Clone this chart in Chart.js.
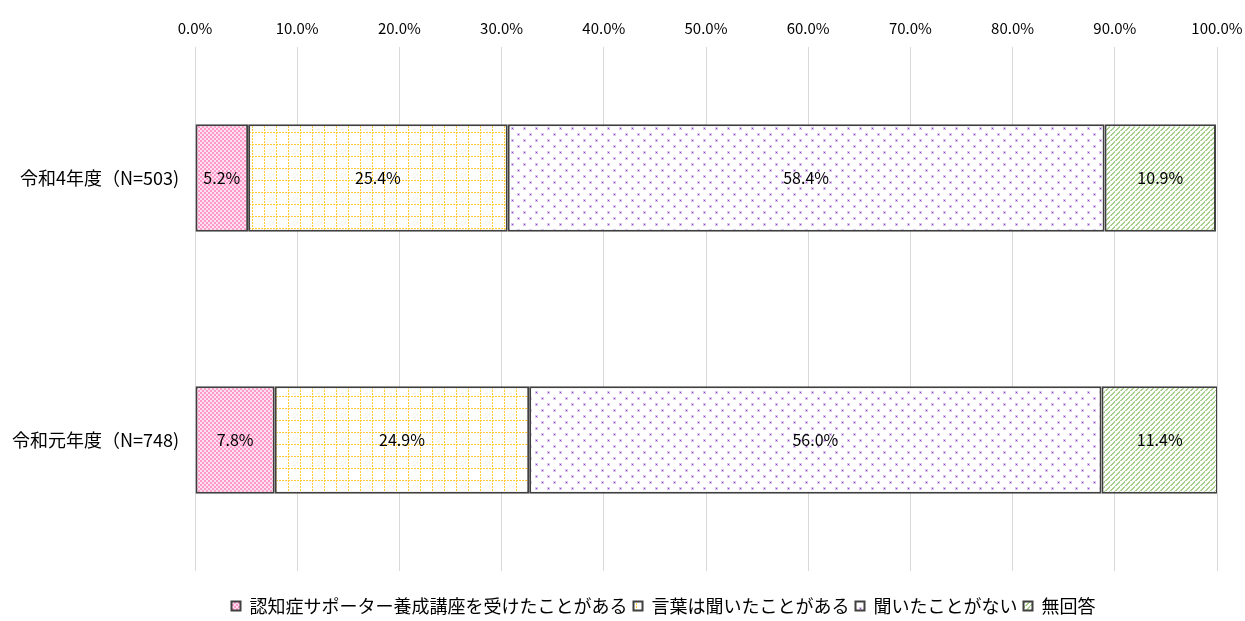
<!DOCTYPE html>
<html>
<head>
<meta charset="utf-8">
<script src="https://cdn.jsdelivr.net/npm/chart.js@4"></script>
<style>
  body { margin: 0; background: #fff; }
  #wrap { width: 1245px; height: 621px; position: relative; }
</style>
</head>
<body>
<div id="wrap"><canvas id="myChart"></canvas></div>
<script>
const categories = ['令和4年度（N=503)', '令和元年度（N=748)'];
const seriesNames = ['認知症サポーター養成講座を受けたことがある', '言葉は聞いたことがある', '聞いたことがない', '無回答'];
const attended = [5.2, 7.8];
const heardWord = [25.4, 24.9];
const neverHeard = [58.4, 56.0];
const noAnswer = [10.9, 11.4];
const tickValues = [0, 10, 20, 30, 40, 50, 60, 70, 80, 90, 100];

const FONT = '"Noto Sans CJK JP", "Noto Sans", sans-serif';

function makePattern(size, draw) {
  const c = document.createElement('canvas');
  c.width = size; c.height = size;
  const g = c.getContext('2d');
  g.fillStyle = '#fff';
  g.fillRect(0, 0, size, size);
  draw(g);
  return document.getElementById('myChart').getContext('2d').createPattern(c, 'repeat');
}

// pink checker
const pinkPattern = makePattern(4, g => {
  g.fillStyle = '#ffe0ef';
  g.fillRect(0, 0, 4, 4);
  g.fillStyle = '#ff99cc';
  g.fillRect(0, 0, 2, 2);
  g.fillRect(2, 2, 2, 2);
});
// yellow dotted grid
const yellowPattern = makePattern(12, g => {
  g.fillStyle = '#ffcc33';
  for (let i = 0; i < 12; i += 3) {
    g.fillRect(i, 0, 2, 1);
    g.fillRect(0, i, 1, 2);
  }
});
// purple dots
const purplePattern = makePattern(12, g => {
  g.fillStyle = '#dcc6ee';
  g.fillRect(1, 1, 3, 3);
  g.fillRect(7, 7, 3, 3);
  g.fillStyle = '#8e44c8';
  g.fillRect(2, 2, 1, 1);
  g.fillRect(8, 8, 1, 1);
});
// green diagonal stripes
const greenPattern = makePattern(5, g => {
  g.fillStyle = '#a9d18e';
  for (let i = 0; i < 5; i++) {
    g.fillRect((5 - i) % 5, i, 2, 1);
  }
});

const barLabels = {
  id: 'barLabels',
  beforeDraw(chart) {
    // legend sits centred under the plot rather than the whole canvas
    chart.legend.left = 110;
  },
  afterDatasetsDraw(chart) {
    const ctx = chart.ctx;
    ctx.save();
    ctx.font = '16px ' + FONT;
    ctx.fillStyle = '#000';
    ctx.textAlign = 'center';
    ctx.textBaseline = 'middle';
    chart.data.datasets.forEach((ds, i) => {
      chart.getDatasetMeta(i).data.forEach((bar, j) => {
        const p = bar.getCenterPoint();
        ctx.fillText(ds.data[j].toFixed(1) + '%', p.x, p.y);
      });
    });
    ctx.restore();
  }
};

const common = { borderColor: '#404040', borderWidth: 2, borderSkipped: false, barPercentage: 0.41, categoryPercentage: 1 };

new Chart(document.getElementById('myChart'), {
  type: 'bar',
  data: {
    labels: categories,
    datasets: [
      { label: seriesNames[0], data: attended, backgroundColor: pinkPattern, ...common },
      { label: seriesNames[1], data: heardWord, backgroundColor: yellowPattern, ...common },
      { label: seriesNames[2], data: neverHeard, backgroundColor: purplePattern, ...common },
      { label: seriesNames[3], data: noAnswer, backgroundColor: greenPattern, ...common }
    ]
  },
  options: {
    indexAxis: 'y',
    responsive: true,
    maintainAspectRatio: false,
    animation: false,
    layout: { padding: { top: 9, right: 28, bottom: -4, left: 0 } },
    scales: {
      x: {
        position: 'top',
        stacked: true,
        min: 0,
        max: 100,
        afterBuildTicks: s => { s.ticks = tickValues.map(v => ({ value: v })); },
        afterFit: s => { s.paddingLeft = 0; s.paddingRight = 0; },
        border: { display: false },
        grid: { color: '#d9d9d9', drawTicks: false },
        ticks: {
          padding: 10,
          color: '#000',
          font: { family: FONT, size: 15 },
          callback: v => v.toFixed(1) + '%'
        }
      },
      y: {
        stacked: true,
        afterFit: s => { s.width = 195; },
        border: { display: false },
        grid: { display: false, drawTicks: false },
        ticks: {
          padding: 16,
          color: '#000',
          font: { family: FONT, size: 18 }
        }
      }
    },
    plugins: {
      legend: {
        position: 'bottom',
        title: { display: true, text: ' ', font: { size: 10 }, padding: 4 },
        labels: {
          boxWidth: 9,
          boxHeight: 9,
          padding: 6,
          color: '#000',
          font: { family: FONT, size: 18 }
        }
      },
      tooltip: { enabled: false }
    }
  },
  plugins: [barLabels]
});
</script>
</body>
</html>
